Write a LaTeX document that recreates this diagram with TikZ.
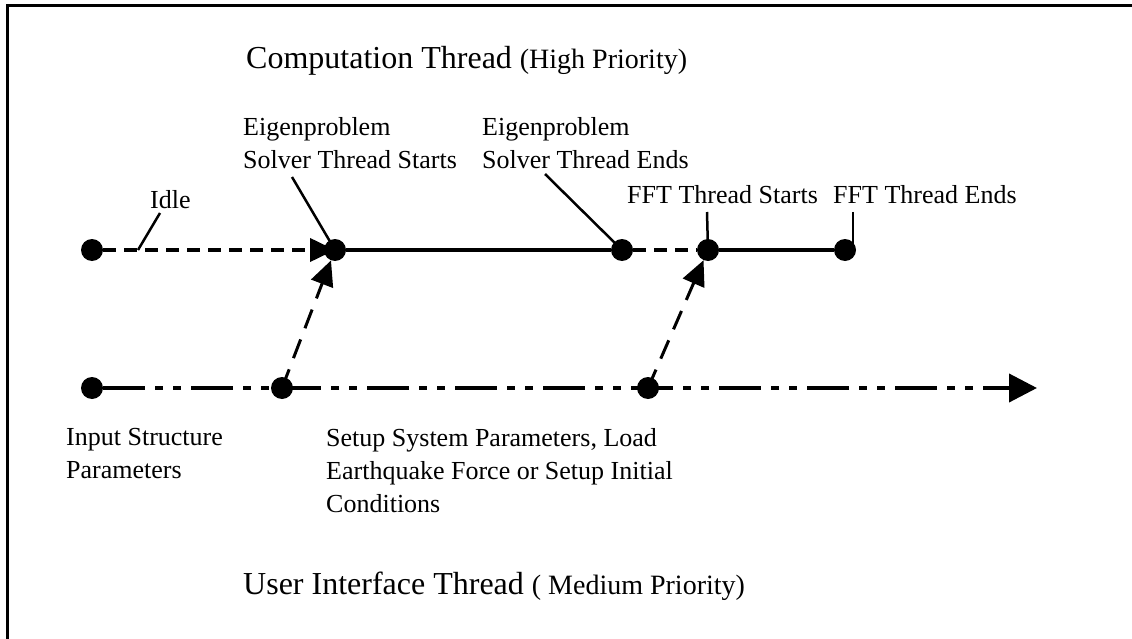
\documentclass[tikz,border=0pt]{standalone}
\usepackage{fontspec}
\setmainfont{Liberation Serif}
\usetikzlibrary{arrows.meta,backgrounds}

\begin{document}
\begin{tikzpicture}[x=1pt,y=-1pt,
  dot/.style={circle,fill=black,inner sep=0pt,minimum size=22pt},
  txt/.style={inner sep=0pt,align=left,font=\fontsize{26}{33}\selectfont},
  bigtxt/.style={inner sep=0pt,font=\fontsize{32}{38}\selectfont},
  busy/.style={line width=4pt},
  idleline/.style={line width=4pt,dash pattern=on 13pt off 8pt},
  uiline/.style={line width=4pt,dash pattern=on 42pt off 10pt on 8pt off 10pt on 8pt off 10pt},
  signal/.style={line width=3pt,dash pattern=on 20pt off 12pt},
  leader/.style={line width=2.5pt},
  tip/.style={-{Triangle[length=25pt,width=23pt]}},
  bigtip/.style={-{Triangle[length=28pt,width=28pt]}}]
\useasboundingbox (0,0) rectangle (1132,639);
\draw[line width=3pt] (7,639) -- (7,6) -- (1132,6);

% thread titles
\node[bigtxt,anchor=base west] (ttop) at (246,69)
  {Computation Thread {\fontsize{28}{30}\selectfont(High Priority)}};
\node[bigtxt,anchor=base west] (tbot) at (243,594)
  {User Interface Thread {\fontsize{28}{30}\selectfont( Medium Priority)}};

% computation thread events
\node[dot] (a1) at (92,250) {};
\node[dot] (a2) at (335,250) {};
\node[dot] (a3) at (622,250) {};
\node[dot] (a4) at (708,250) {};
\node[dot] (a5) at (845,250) {};

% user interface thread events
\node[dot] (b1) at (92,388) {};
\node[dot] (b2) at (282,388) {};
\node[dot] (b3) at (648,388) {};
\coordinate (bend) at (1037,388);

% labels
\node[txt,anchor=base west] (idle) at (150,208) {Idle};
\node[txt,anchor=north west] (es) at (243,117) {Eigenproblem\\Solver Thread Starts};
\node[txt,anchor=north west] (ee) at (482,117) {Eigenproblem\\Solver Thread Ends};
\node[txt,anchor=base west] (fs) at (627,204) {FFT Thread Starts};
\node[txt,anchor=base west] (fe) at (833,204) {FFT Thread Ends};
\node[txt,anchor=north west] (inp) at (66,428) {Input Structure\\Parameters};
\node[txt,anchor=north west] (setup) at (326,428)
  {Setup System Parameters, Load\\Earthquake Force or Setup Initial\\Conditions};

% leader ends
\coordinate (idleA) at (160,213);
\coordinate (idleB) at (138,250);
\coordinate (esA) at (292,177);
\coordinate (eeA) at (545,174);
\coordinate (fsA) at (707,212);
\coordinate (feA) at (853,212);
\coordinate (feB) at (853,246);

\begin{scope}[on background layer]
  \draw[idleline,tip,shorten >=0pt] (a1) -- (a2.center);
  \draw[busy] (a2) -- (a3);
  \draw[idleline] (a3) -- (a4);
  \draw[busy] (a4) -- (a5);
  \draw[uiline,bigtip] (b1) -- (bend);
  \draw[signal,tip] (b2.center) -- (a2);
  \draw[signal,tip] (b3.center) -- (a4);
  \draw[leader] (idleA) -- (idleB);
  \draw[leader] (esA) -- (a2.center);
  \draw[leader] (eeA) -- (a3.center);
  \draw[leader] (fsA) -- (a4.center);
  \draw[leader] (feA) -- (feB);
\end{scope}
\end{tikzpicture}
\end{document}
